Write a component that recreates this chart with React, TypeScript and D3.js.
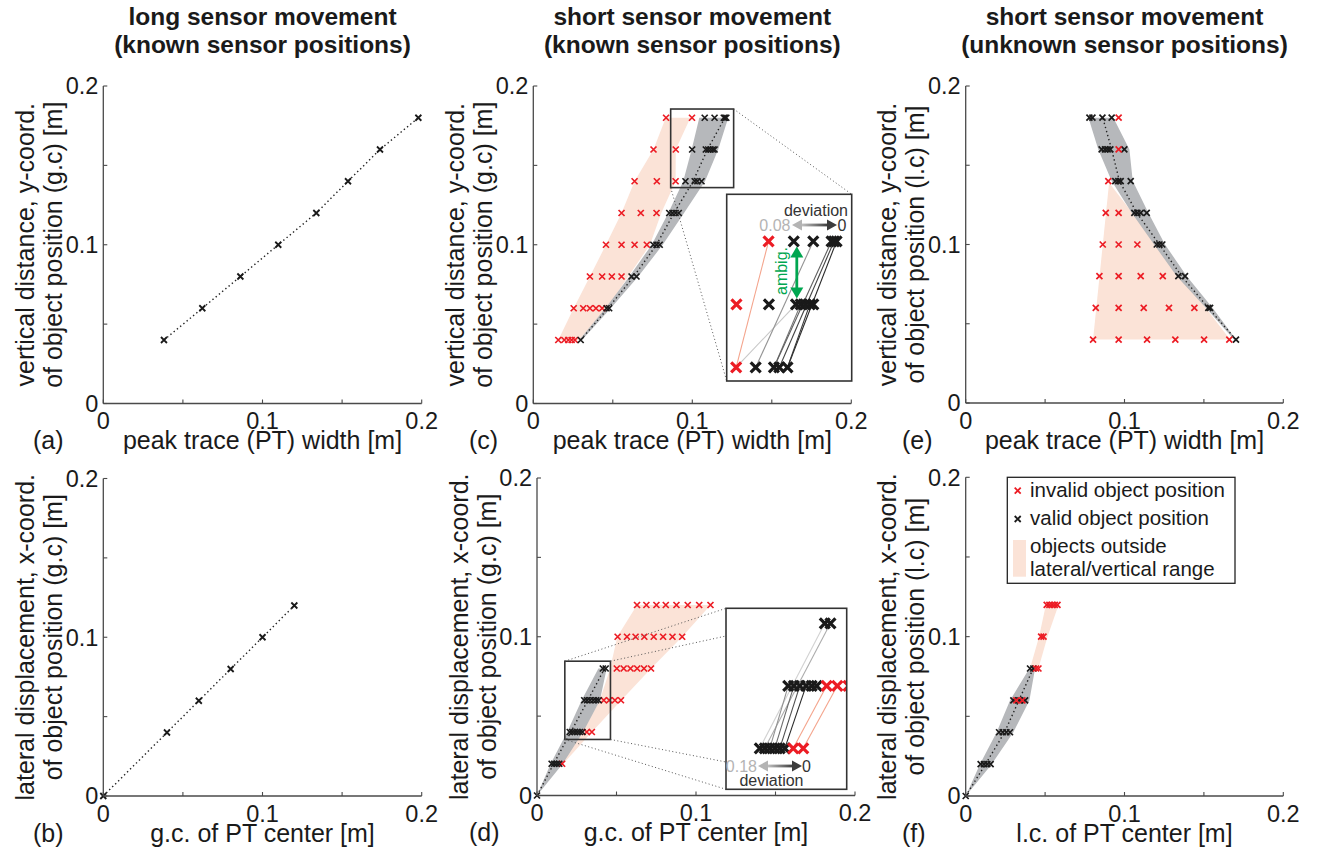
import React from 'react';
import * as d3 from 'd3';

const FONT = '"Liberation Sans", Arial, Helvetica, sans-serif';
const RED = '#ec1c24';
const BLACK = '#1a1a1a';
const BAND = '#b6b8bb';
const PINK = '#fbe3d7';
const AXIS = '#4a4a4a';
const GREEN = '#00a650';

// ---------- data ----------
const tickVals = [0, 0.05, 0.1, 0.15, 0.2];
const tickLabels = ['0', '', '0.1', '', '0.2'];

// (a) long sensor movement, known positions
const aWidth = [0.0381, 0.0622, 0.0861, 0.1099, 0.1338, 0.1537, 0.1738, 0.1979];
const aY = [0.04, 0.06, 0.08, 0.10, 0.12, 0.14, 0.16, 0.18];
// (b)
const bCenter = [0, 0.04, 0.06, 0.08, 0.10, 0.12];
const bX = [0, 0.04, 0.06, 0.08, 0.10, 0.12];

// (c) short movement, known positions
const cRowY = [0.04, 0.06, 0.08, 0.10, 0.12, 0.14, 0.16, 0.18];
const cRed = [
  [0.0157, 0.0195, 0.022, 0.0241, 0.0262],
  [0.0254, 0.0314, 0.0356, 0.0394, 0.0433],
  [0.0356, 0.0433, 0.0494, 0.0555],
  [0.0457, 0.0555, 0.0637, 0.0714],
  [0.0555, 0.0676, 0.0775],
  [0.0637, 0.0777, 0.0895],
  [0.0756, 0.0896],
  [0.0835, 0.0998],
];
const cBlack = [
  [0.0298],
  [0.0461, 0.0477],
  [0.0618, 0.0649],
  [0.0755, 0.0775, 0.0795],
  [0.0855, 0.0875, 0.0895, 0.0915],
  [0.0957, 0.1015, 0.1032, 0.1058],
  [0.0999, 0.1085, 0.1100, 0.1115, 0.1129, 0.1140],
  [0.1078, 0.1140, 0.1198, 0.1206, 0.1214],
];
const cTrue = [0.0298, 0.047, 0.0632, 0.0775, 0.0885, 0.1005, 0.1095, 0.1205];
const cBandLo = [0.0289, 0.0453, 0.0604, 0.0745, 0.0849, 0.0943, 0.0996, 0.1044];
const cBandHi = [0.0306, 0.0487, 0.066, 0.0814, 0.0948, 0.108, 0.1163, 0.1226];
const cPinkLo = [0.0157, 0.0254, 0.0356, 0.0457, 0.0555, 0.0637, 0.0756, 0.0833];
const cPinkHi = [0.0288, 0.0462, 0.0597, 0.0734, 0.0805, 0.0895, 0.0896, 0.0988];
const cZoomBox = [0.0864, 0.126, 0.136, 0.1855];
const cInsetDomX = [0.0865, 0.1262];
const cInsetDomY = [0.1357, 0.1949];
// links in inset: [xFrom, yFrom, xTo, yTo, deviation, invalid(1)]
const cLinks = [
  [0.0895, 0.14, 0.0998, 0.18, 0, 1],
  [0.0895, 0.14, 0.1085, 0.16, 0.075, 0],
  [0.0957, 0.14, 0.1140, 0.18, 0.05, 0],
  [0.1015, 0.14, 0.1100, 0.16, 0.035, 0],
  [0.1015, 0.14, 0.1198, 0.18, 0.025, 0],
  [0.1032, 0.14, 0.1206, 0.18, 0.012, 0],
  [0.1058, 0.14, 0.1214, 0.18, 0.0, 0],
  [0.1058, 0.14, 0.1129, 0.16, 0.005, 0],
];

// (d) short movement, known positions, lateral
const dRowY = [0, 0.02, 0.04, 0.06, 0.08, 0.10, 0.12];
const dRed = [
  [],
  [0.0158],
  [0.0313, 0.0345],
  [0.042, 0.0454, 0.049, 0.0528],
  [0.0502, 0.0545, 0.0588, 0.063, 0.0673, 0.0717],
  [0.0507, 0.0566, 0.062, 0.0675, 0.0734, 0.0793, 0.0852, 0.0913],
  [0.0629, 0.0688, 0.0751, 0.081, 0.0877, 0.0948, 0.102, 0.1091],
];
const dBlack = [
  [0],
  [0.0092, 0.0108, 0.0124, 0.014],
  [0.0206, 0.0222, 0.0238, 0.0254, 0.027, 0.0286],
  [0.0297, 0.0315, 0.0334, 0.0354, 0.0372, 0.0388],
  [0.0414, 0.0432],
  [],
  [],
];
const dTrueY = [0, 0.02, 0.04, 0.06, 0.08];
const dTrue = [0, 0.0105, 0.0213, 0.032, 0.0425];
const dBandY = [0, 0.02, 0.04, 0.06, 0.08];
const dBandLo = [0, 0.0086, 0.019, 0.0281, 0.0386];
const dBandHi = [0, 0.0162, 0.029, 0.0396, 0.0438];
const dPinkY = [0.02, 0.04, 0.06, 0.08, 0.10, 0.12];
const dPinkLo = [0.015, 0.0285, 0.0395, 0.046, 0.0505, 0.0629];
const dPinkHi = [0.0165, 0.0345, 0.053, 0.0717, 0.0913, 0.1091];
const dZoomBox = [0.0175, 0.0462, 0.0353, 0.0846];
const dInsetDomX = [0.0098, 0.0484];
const dInsetDomY = [0.0269, 0.0848];
const dLinks = [
  [0.0206, 0.04, 0.0414, 0.08, 0.18, 0],
  [0.0222, 0.04, 0.0432, 0.08, 0.14, 0],
  [0.0238, 0.04, 0.0297, 0.06, 0.11, 0],
  [0.0254, 0.04, 0.0315, 0.06, 0.07, 0],
  [0.027, 0.04, 0.0334, 0.06, 0.04, 0],
  [0.0286, 0.04, 0.0354, 0.06, 0.0, 0],
  [0.0313, 0.04, 0.042, 0.06, 0, 1],
  [0.0345, 0.04, 0.0454, 0.06, 0, 1],
];

// (e) short movement, unknown positions
const eRowY = [0.04, 0.06, 0.08, 0.10, 0.12, 0.14, 0.16, 0.18];
const eRed = [
  [0.0802, 0.0963, 0.1142, 0.132, 0.1501, 0.166],
  [0.0819, 0.0963, 0.1121, 0.128, 0.144],
  [0.0842, 0.0963, 0.1102, 0.1241],
  [0.0863, 0.0963, 0.1081],
  [0.0882, 0.0963],
  [0.0898],
  [0.0963],
  [0.0963],
];
const eBlack = [
  [0.1702],
  [0.1528, 0.1539],
  [0.1339, 0.1381],
  [0.1203, 0.122, 0.1238],
  [0.1062, 0.1081, 0.1102, 0.114],
  [0.0942, 0.0961, 0.0976, 0.1039],
  [0.0856, 0.0877, 0.0894, 0.0911, 0.0999],
  [0.0779, 0.0798, 0.0861, 0.0919],
];
const eTrue = [0.1702, 0.1528, 0.136, 0.122, 0.1077, 0.0968, 0.0919, 0.0863];
const eBandLo = [0.169, 0.1513, 0.1329, 0.1186, 0.1045, 0.0919, 0.0835, 0.0773];
const eBandHi = [0.1702, 0.1555, 0.1392, 0.1255, 0.115, 0.1052, 0.1031, 0.093];
const ePinkY = [0.04, 0.139];
const ePinkLo = [0.0802, 0.0903];
const ePinkHi = [0.1665, 0.0903];

// (f) short movement, unknown positions, lateral
const fRowY = [0, 0.02, 0.04, 0.06, 0.08, 0.10, 0.12];
const fRed = [
  [],
  [],
  [],
  [0.0319, 0.0357],
  [0.0443, 0.0458],
  [0.0475, 0.049],
  [0.051, 0.0527, 0.0544, 0.0561, 0.0578],
];
const fBlack = [
  [0],
  [0.0094, 0.0115, 0.0136, 0.0157],
  [0.021, 0.0233, 0.0256, 0.0279],
  [0.030, 0.0338, 0.0374],
  [0.0405, 0.0426],
  [],
  [],
];
const fTrueY = [0, 0.02, 0.04, 0.06, 0.08];
const fTrue = [0, 0.0125, 0.0245, 0.0335, 0.0425];
const fBandY = [0, 0.02, 0.04, 0.06, 0.08];
const fBandLo = [0, 0.009, 0.0195, 0.0279, 0.0401];
const fBandHi = [0, 0.0164, 0.030, 0.0401, 0.0437];
const fPinkY = [0.08, 0.10, 0.12];
const fPinkLo = [0.0405, 0.0462, 0.0505];
const fPinkHi = [0.0458, 0.0515, 0.0585];

const legendLabels = ['invalid object position', 'valid object position', 'objects outside', 'lateral/vertical range'];

// ---------- helpers ----------
type Sc = d3.ScaleLinear<number, number>;

function Cross({ x, y, s, color, w }: { x: number; y: number; s: number; color: string; w: number }) {
  return (
    <path
      d={`M${x - s},${y - s}L${x + s},${y + s}M${x - s},${y + s}L${x + s},${y - s}`}
      stroke={color}
      strokeWidth={w}
      fill="none"
    />
  );
}

function bandPath(xs: Sc, ys: Sc, yv: number[], lo: number[], hi: number[]) {
  const rows = yv.map((v, i) => ({ y: v, lo: lo[i], hi: hi[i] }));
  return d3
    .area<{ y: number; lo: number; hi: number }>()
    .y((d) => ys(d.y))
    .x0((d) => xs(d.lo))
    .x1((d) => xs(d.hi))(rows) as string;
}

function linePath(xs: Sc, ys: Sc, xv: number[], yv: number[]) {
  return d3.line<number>().x((d) => xs(d)).y((_, i) => ys(yv[i]))(xv) as string;
}

function Points({ xs, ys, rowY, vals, color, s = 3, w = 1.8 }: any) {
  const out: any[] = [];
  rowY.forEach((yv: number, i: number) => {
    vals[i].forEach((xv: number, j: number) => {
      out.push(<Cross key={`${i}-${j}`} x={xs(xv)} y={ys(yv)} s={s} color={color} w={w} />);
    });
  });
  return <g>{out}</g>;
}

interface AxCfg {
  x0: number;
  x1: number;
  yb: number;
  yt: number;
  xlabel: string;
  yl1: string;
  yl2: string;
  letter: string;
  letterX: number;
}

function Axes({ c, xs, ys }: { c: AxCfg; xs: Sc; ys: Sc }) {
  const cy = (c.yb + c.yt) / 2;
  const cx = (c.x0 + c.x1) / 2;
  return (
    <g fontFamily={FONT} fill="#1a1a1a">
      <line x1={c.x0} y1={c.yt} x2={c.x0} y2={c.yb} stroke={AXIS} strokeWidth={1.3} />
      <line x1={c.x0} y1={c.yb} x2={c.x1} y2={c.yb} stroke={AXIS} strokeWidth={1.3} />
      {tickVals.map((t, i) => (
        <g key={i}>
          <line x1={xs(t)} y1={c.yb} x2={xs(t)} y2={c.yb - 4} stroke={AXIS} strokeWidth={1.1} />
          <line x1={c.x0} y1={ys(t)} x2={c.x0 + 4} y2={ys(t)} stroke={AXIS} strokeWidth={1.1} />
          {tickLabels[i] && (
            <text x={xs(t)} y={c.yb + 25.5} fontSize={23.5} textAnchor="middle">
              {tickLabels[i]}
            </text>
          )}
          {tickLabels[i] && (
            <text x={c.x0 - 5} y={ys(t) + 8.3} fontSize={23.5} textAnchor="end">
              {tickLabels[i]}
            </text>
          )}
        </g>
      ))}
      <text x={cx} y={c.yb + 45.5} fontSize={25} textAnchor="middle">
        {c.xlabel}
      </text>
      <text x={c.letterX} y={c.yb + 45.5} fontSize={25}>
        {c.letter}
      </text>
      <text transform={`translate(${c.x0 - 69.5},${cy}) rotate(-90)`} fontSize={25} textAnchor="middle">
        {c.yl1}
      </text>
      <text transform={`translate(${c.x0 - 41.5},${cy}) rotate(-90)`} fontSize={25} textAnchor="middle">
        {c.yl2}
      </text>
    </g>
  );
}

function devColor(dev: number, max: number) {
  return d3.interpolateRgb('#2a2a2a', '#d2d2d2')(Math.min(1, dev / max));
}

function HArrow({ xa, xb, y, grad }: { xa: number; xb: number; y: number; grad: string }) {
  const hl = 10;
  const hw = 5.5;
  return (
    <g>
      <rect x={xa + hl - 1} y={y - 1.4} width={xb - xa - 2 * hl + 2} height={2.8} fill={`url(#${grad})`} />
      <path d={`M${xa},${y}L${xa + hl},${y - hw}L${xa + hl},${y + hw}Z`} fill="#b4b4b4" />
      <path d={`M${xb},${y}L${xb - hl},${y - hw}L${xb - hl},${y + hw}Z`} fill="#3c3c3c" />
    </g>
  );
}

export default function App() {
  const mk = (x0: number, x1: number, yb: number, yt: number) => ({
    xs: d3.scaleLinear().domain([0, 0.2]).range([x0, x1]),
    ys: d3.scaleLinear().domain([0, 0.2]).range([yb, yt]),
  });

  const cfgA: AxCfg = { x0: 103.3, x1: 421.7, yb: 403.5, yt: 86, xlabel: 'peak trace (PT) width [m]', yl1: 'vertical distance, y-coord.', yl2: 'of object position (g.c) [m]', letter: '(a)', letterX: 33 };
  const cfgB: AxCfg = { x0: 103.3, x1: 421.7, yb: 796, yt: 478.5, xlabel: 'g.c. of PT center [m]', yl1: 'lateral displacement, x-coord.', yl2: 'of object position (g.c) [m]', letter: '(b)', letterX: 33 };
  const cfgC: AxCfg = { x0: 533.3, x1: 851.3, yb: 403.5, yt: 86, xlabel: 'peak trace (PT) width [m]', yl1: 'vertical distance, y-coord.', yl2: 'of object position (g.c) [m]', letter: '(c)', letterX: 469 };
  const cfgD: AxCfg = { x0: 537, x1: 855, yb: 795.5, yt: 478, xlabel: 'g.c. of PT center [m]', yl1: 'lateral displacement, x-coord.', yl2: 'of object position (g.c) [m]', letter: '(d)', letterX: 469 };
  const cfgE: AxCfg = { x0: 965.7, x1: 1283.3, yb: 403, yt: 86, xlabel: 'peak trace (PT) width [m]', yl1: 'vertical distance, y-coord.', yl2: 'of object position (l.c) [m]', letter: '(e)', letterX: 902 };
  const cfgF: AxCfg = { x0: 965.7, x1: 1283.3, yb: 796, yt: 477.3, xlabel: 'l.c. of PT center [m]', yl1: 'lateral displacement, x-coord.', yl2: 'of object position (l.c) [m]', letter: '(f)', letterX: 902 };

  const A = mk(cfgA.x0, cfgA.x1, cfgA.yb, cfgA.yt);
  const B = mk(cfgB.x0, cfgB.x1, cfgB.yb, cfgB.yt);
  const C = mk(cfgC.x0, cfgC.x1, cfgC.yb, cfgC.yt);
  const D = mk(cfgD.x0, cfgD.x1, cfgD.yb, cfgD.yt);
  const E = mk(cfgE.x0, cfgE.x1, cfgE.yb, cfgE.yt);
  const F = mk(cfgF.x0, cfgF.x1, cfgF.yb, cfgF.yt);

  const dotted = { stroke: '#222', strokeWidth: 1.4, strokeDasharray: '1.4 2.8', fill: 'none' };

  // insets
  const cIn = { l: 726.7, r: 851.7, t: 194.3, b: 381 };
  const cIx = d3.scaleLinear().domain(cInsetDomX).range([cIn.l, cIn.r]);
  const cIy = d3.scaleLinear().domain(cInsetDomY).range([cIn.b, cIn.t]);
  const dIn = { l: 726, r: 846.7, t: 608.3, b: 789.3 };
  const dIx = d3.scaleLinear().domain(dInsetDomX).range([dIn.l, dIn.r]);
  const dIy = d3.scaleLinear().domain(dInsetDomY).range([dIn.b, dIn.t]);

  const cBox = { l: C.xs(cZoomBox[0]), r: C.xs(cZoomBox[1]), b: C.ys(cZoomBox[2]), t: C.ys(cZoomBox[3]) };
  const dBox = { l: D.xs(dZoomBox[0]), r: D.xs(dZoomBox[1]), b: D.ys(dZoomBox[2]), t: D.ys(dZoomBox[3]) };

  const titles = [
    { x: (cfgA.x0 + cfgA.x1) / 2, l1: 'long sensor movement', l2: '(known sensor positions)' },
    { x: (cfgC.x0 + cfgC.x1) / 2, l1: 'short sensor movement', l2: '(known sensor positions)' },
    { x: (cfgE.x0 + cfgE.x1) / 2, l1: 'short sensor movement', l2: '(unknown sensor positions)' },
  ];

  const fLeg = { l: 1007.3, t: 477.3, r: 1235, b: 583.3 };

  return (
    <svg width={1318} height={850} style={{ position: 'absolute', left: 0, top: 0, background: '#fff' }} fontFamily={FONT}>
      <defs>
        <linearGradient id="gradDev" x1="0" x2="1" y1="0" y2="0">
          <stop offset="0" stopColor="#c4c4c4" />
          <stop offset="1" stopColor="#3c3c3c" />
        </linearGradient>
        <clipPath id="clipC">
          <rect x={cIn.l} y={cIn.t} width={cIn.r - cIn.l} height={cIn.b - cIn.t} />
        </clipPath>
        <clipPath id="clipD">
          <rect x={dIn.l} y={dIn.t} width={dIn.r - dIn.l} height={dIn.b - dIn.t} />
        </clipPath>
      </defs>
      <rect x={0} y={0} width={1318} height={850} fill="#fff" />

      {titles.map((t, i) => (
        <g key={i} fontWeight="bold" fontSize={24.5} textAnchor="middle" fill="#1a1a1a">
          <text x={t.x} y={25}>{t.l1}</text>
          <text x={t.x} y={53}>{t.l2}</text>
        </g>
      ))}

      {/* (a) */}
      <path d={linePath(A.xs, A.ys, aWidth, aY)} {...dotted} />
      {aWidth.map((v, i) => (
        <Cross key={i} x={A.xs(v)} y={A.ys(aY[i])} s={3} color={BLACK} w={1.8} />
      ))}
      <Axes c={cfgA} xs={A.xs} ys={A.ys} />

      {/* (b) */}
      <path d={linePath(B.xs, B.ys, bCenter, bX)} {...dotted} />
      {bCenter.map((v, i) => (
        <Cross key={i} x={B.xs(v)} y={B.ys(bX[i])} s={3} color={BLACK} w={1.8} />
      ))}
      <Axes c={cfgB} xs={B.xs} ys={B.ys} />

      {/* (c) */}
      <path d={bandPath(C.xs, C.ys, cRowY, cPinkLo, cPinkHi)} fill={PINK} />
      <path d={bandPath(C.xs, C.ys, cRowY, cBandLo, cBandHi)} fill={BAND} />
      <path d={linePath(C.xs, C.ys, cTrue, cRowY)} {...dotted} />
      <Points xs={C.xs} ys={C.ys} rowY={cRowY} vals={cRed} color={RED} s={3} w={1.7} />
      <Points xs={C.xs} ys={C.ys} rowY={cRowY} vals={cBlack} color={BLACK} s={3} w={1.7} />
      <Axes c={cfgC} xs={C.xs} ys={C.ys} />
      <rect x={cBox.l} y={cBox.t} width={cBox.r - cBox.l} height={cBox.b - cBox.t} fill="none" stroke="#333" strokeWidth={1.6} />
      <line x1={cBox.r} y1={cBox.t} x2={cIn.r} y2={cIn.t} stroke="#555" strokeWidth={1} strokeDasharray="1 2.5" />
      <line x1={cBox.l} y1={cBox.b} x2={cIn.l} y2={cIn.b} stroke="#555" strokeWidth={1} strokeDasharray="1 2.5" />
      <rect x={cIn.l} y={cIn.t} width={cIn.r - cIn.l} height={cIn.b - cIn.t} fill="#fff" />
      <g clipPath="url(#clipC)">
        {cLinks.map((k, i) => (
          <line key={i} x1={cIx(k[0])} y1={cIy(k[1])} x2={cIx(k[2])} y2={cIy(k[3])} stroke={k[5] ? '#f4a48c' : devColor(k[4], 0.08)} strokeWidth={1.1} />
        ))}
        <Points xs={cIx} ys={cIy} rowY={cRowY} vals={cRed} color={RED} s={5} w={3.2} />
        <Points xs={cIx} ys={cIy} rowY={cRowY} vals={cBlack} color={BLACK} s={5} w={3.2} />
      </g>
      <rect x={cIn.l} y={cIn.t} width={cIn.r - cIn.l} height={cIn.b - cIn.t} fill="none" stroke="#333" strokeWidth={1.6} />
      <text x={816} y={215.5} fontSize={16} textAnchor="middle" fill="#333">deviation</text>
      <text x={790.5} y={231} fontSize={16} textAnchor="end" fill="#b4b4b4">0.08</text>
      <text x={837.5} y={231} fontSize={16} fill="#333">0</text>
      <HArrow xa={792} xb={837} y={225} grad="gradDev" />
      <text transform="translate(786.5,271) rotate(-90)" fontSize={16} textAnchor="middle" fill={GREEN}>ambig.</text>
      <g fill={GREEN}>
        <rect x={795.4} y={256} width={2.8} height={33} />
        <path d="M796.8,246.5L790.3,257.5L803.3,257.5Z" />
        <path d="M796.8,298.5L790.3,287.5L803.3,287.5Z" />
      </g>

      {/* (d) */}
      <path d={bandPath(D.xs, D.ys, dPinkY, dPinkLo, dPinkHi)} fill={PINK} />
      <path d={bandPath(D.xs, D.ys, dBandY, dBandLo, dBandHi)} fill={BAND} />
      <path d={linePath(D.xs, D.ys, dTrue, dTrueY)} {...dotted} />
      <Points xs={D.xs} ys={D.ys} rowY={dRowY} vals={dRed} color={RED} s={3} w={1.7} />
      <Points xs={D.xs} ys={D.ys} rowY={dRowY} vals={dBlack} color={BLACK} s={3} w={1.7} />
      <Axes c={cfgD} xs={D.xs} ys={D.ys} />
      <rect x={dBox.l} y={dBox.t} width={dBox.r - dBox.l} height={dBox.b - dBox.t} fill="none" stroke="#333" strokeWidth={1.6} />
      <line x1={dBox.l} y1={dBox.t} x2={dIn.l} y2={dIn.t} stroke="#555" strokeWidth={1} strokeDasharray="1 2.5" />
      <line x1={dBox.r} y1={dBox.t} x2={dIn.l} y2={636} stroke="#555" strokeWidth={1} strokeDasharray="1 2.5" />
      <line x1={dBox.r} y1={dBox.b} x2={dIn.l} y2={762} stroke="#555" strokeWidth={1} strokeDasharray="1 2.5" />
      <line x1={dBox.l} y1={dBox.b} x2={dIn.l} y2={dIn.b} stroke="#555" strokeWidth={1} strokeDasharray="1 2.5" />
      <rect x={dIn.l} y={dIn.t} width={dIn.r - dIn.l} height={dIn.b - dIn.t} fill="#fff" />
      <g clipPath="url(#clipD)">
        {dLinks.map((k, i) => (
          <line key={i} x1={dIx(k[0])} y1={dIy(k[1])} x2={dIx(k[2])} y2={dIy(k[3])} stroke={k[5] ? '#f4a48c' : devColor(k[4], 0.18)} strokeWidth={1.1} />
        ))}
        <Points xs={dIx} ys={dIy} rowY={dRowY} vals={dBlack} color={BLACK} s={5} w={3.2} />
        <Points xs={dIx} ys={dIy} rowY={dRowY} vals={dRed} color={RED} s={5} w={3.2} />
      </g>
      <rect x={dIn.l} y={dIn.t} width={dIn.r - dIn.l} height={dIn.b - dIn.t} fill="none" stroke="#333" strokeWidth={1.6} />
      <text x={757} y={772} fontSize={16} textAnchor="end" fill="#b4b4b4">0.18</text>
      <text x={802} y={772} fontSize={16} fill="#333">0</text>
      <HArrow xa={758} xb={802} y={766} grad="gradDev" />
      <text x={771.5} y={786} fontSize={16} textAnchor="middle" fill="#333">deviation</text>

      {/* (e) */}
      <path d={bandPath(E.xs, E.ys, ePinkY, ePinkLo, ePinkHi)} fill={PINK} />
      <path d={bandPath(E.xs, E.ys, eRowY, eBandLo, eBandHi)} fill={BAND} />
      <path d={linePath(E.xs, E.ys, eTrue, eRowY)} {...dotted} />
      <Points xs={E.xs} ys={E.ys} rowY={eRowY} vals={eBlack} color={BLACK} s={3} w={1.7} />
      <Points xs={E.xs} ys={E.ys} rowY={eRowY} vals={eRed} color={RED} s={3} w={1.7} />
      <Axes c={cfgE} xs={E.xs} ys={E.ys} />

      {/* (f) */}
      <path d={bandPath(F.xs, F.ys, fPinkY, fPinkLo, fPinkHi)} fill={PINK} />
      <path d={bandPath(F.xs, F.ys, fBandY, fBandLo, fBandHi)} fill={BAND} />
      <path d={linePath(F.xs, F.ys, fTrue, fTrueY)} {...dotted} />
      <Points xs={F.xs} ys={F.ys} rowY={fRowY} vals={fBlack} color={BLACK} s={3} w={1.7} />
      <Points xs={F.xs} ys={F.ys} rowY={fRowY} vals={fRed} color={RED} s={3} w={1.7} />
      <Axes c={cfgF} xs={F.xs} ys={F.ys} />

      {/* legend */}
      <rect x={fLeg.l} y={fLeg.t} width={fLeg.r - fLeg.l} height={fLeg.b - fLeg.t} fill="#fff" stroke="#222" strokeWidth={1.3} />
      <Cross x={1017.7} y={490.7} s={3} color={RED} w={1.8} />
      <Cross x={1017.7} y={519} s={3} color={BLACK} w={1.8} />
      <rect x={1013} y={540} width={13} height={36.7} fill={PINK} />
      <g fontSize={20.5} fill="#1a1a1a">
        <text x={1030} y={497.3}>{legendLabels[0]}</text>
        <text x={1030} y={525}>{legendLabels[1]}</text>
        <text x={1030} y={552.5}>{legendLabels[2]}</text>
        <text x={1030} y={575.5}>{legendLabels[3]}</text>
      </g>
    </svg>
  );
}
